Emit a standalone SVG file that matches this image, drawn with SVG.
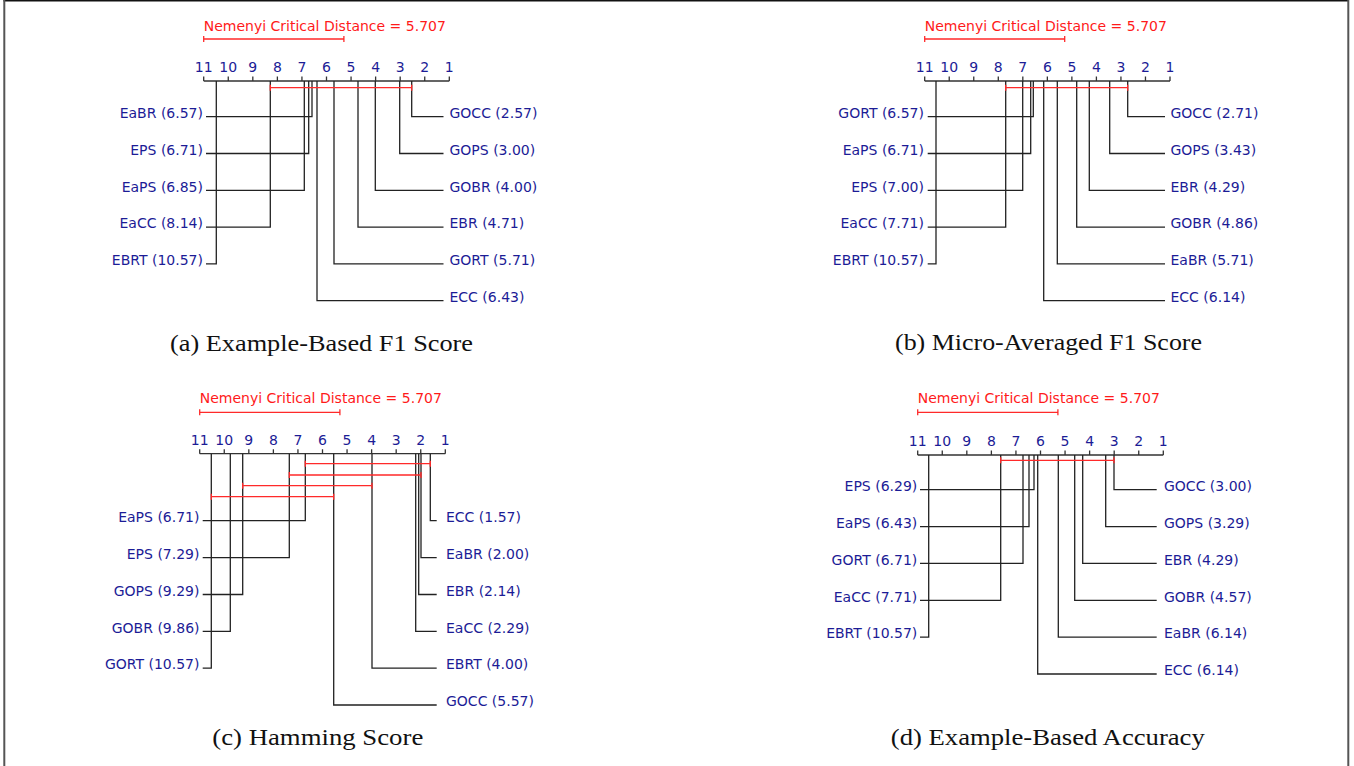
<svg xmlns="http://www.w3.org/2000/svg" width="1354" height="766" viewBox="0 0 1354 766">
<style>
.lbl{font-family:"DejaVu Sans",Verdana,sans-serif;font-size:14px;fill:#1c1c96}
.l{text-anchor:end}
.tk{font-family:"DejaVu Sans",Verdana,sans-serif;font-size:14px;fill:#1c1c96;text-anchor:middle}
.cdt{font-family:"DejaVu Sans",Verdana,sans-serif;font-size:14px;fill:#ff1a1a}
.cap{font-family:"Liberation Serif","Times New Roman",serif;font-size:24px;fill:#111;text-anchor:middle}
.ln{stroke:#222;stroke-width:1.3;fill:none}
.ax{stroke:#333;stroke-width:1.3;fill:none}
.red{stroke:#ff2a2a;stroke-width:1.3;fill:none}
</style>
<rect width="1354" height="766" fill="#fff"/>
<g id="frame">
<line x1="3.5" y1="0.8" x2="1348.5" y2="0.8" stroke="#111" stroke-width="1.5"/>
<line x1="4.3" y1="0" x2="4.3" y2="766" stroke="#555" stroke-width="2"/>
<line x1="1348.3" y1="0" x2="1348.3" y2="766" stroke="#555" stroke-width="2"/>
</g>

<!-- Panel (a) -->
<g id="panel-a">
<g id="a-cd">
<text class="cdt" x="203.7" y="30.7">Nemenyi Critical Distance = 5.707</text>
<path class="red" d="M203.7,39H343.9M203.7,36V42M343.9,36V42"/>
</g>
<g id="a-axis">
<path class="ax" d="M203.7,81H449.3M203.7,76.5V81M228.26,76.5V81M252.82,76.5V81M277.38,76.5V81M301.94,76.5V81M326.5,76.5V81M351.06,76.5V81M375.62,76.5V81M400.18,76.5V81M424.74,76.5V81M449.3,76.5V81"/>
<text class="tk" x="203.7" y="72">11</text><text class="tk" x="228.26" y="72">10</text><text class="tk" x="252.82" y="72">9</text><text class="tk" x="277.38" y="72">8</text><text class="tk" x="301.94" y="72">7</text><text class="tk" x="326.5" y="72">6</text><text class="tk" x="351.06" y="72">5</text><text class="tk" x="375.62" y="72">4</text><text class="tk" x="400.18" y="72">3</text><text class="tk" x="424.74" y="72">2</text><text class="tk" x="449.3" y="72">1</text>
</g>
<g id="a-connectors">
<path class="ln" d="M206,116.7H312V81"/>
<path class="ln" d="M206,153.5H308.7V81"/>
<path class="ln" d="M206,190.3H304.3V81"/>
<path class="ln" d="M206,227.1H270.3V81"/>
<path class="ln" d="M206,263.9H216.3V81"/>
<path class="ln" d="M443.5,116.7H411.7V81"/>
<path class="ln" d="M443.5,153.5H399.7V81"/>
<path class="ln" d="M443.5,190.3H375.3V81"/>
<path class="ln" d="M443.5,227.1H358V81"/>
<path class="ln" d="M443.5,263.9H334V81"/>
<path class="ln" d="M443.5,300.7H317V81"/>
<path class="red" d="M270.3,87.7H411.7M270.3,84.7V90.7M411.7,84.7V90.7"/>
</g>
<g id="a-EaBR"><text class="lbl l" x="203" y="118">EaBR (6.57)</text></g>
<g id="a-EPS"><text class="lbl l" x="203" y="154.8">EPS (6.71)</text></g>
<g id="a-EaPS"><text class="lbl l" x="203" y="191.6">EaPS (6.85)</text></g>
<g id="a-EaCC"><text class="lbl l" x="203" y="228.4">EaCC (8.14)</text></g>
<g id="a-EBRT"><text class="lbl l" x="203" y="265.2">EBRT (10.57)</text></g>
<g id="a-GOCC"><text class="lbl" x="449.5" y="118">GOCC (2.57)</text></g>
<g id="a-GOPS"><text class="lbl" x="449.5" y="154.8">GOPS (3.00)</text></g>
<g id="a-GOBR"><text class="lbl" x="449.5" y="191.6">GOBR (4.00)</text></g>
<g id="a-EBR"><text class="lbl" x="449.5" y="228.4">EBR (4.71)</text></g>
<g id="a-GORT"><text class="lbl" x="449.5" y="265.2">GORT (5.71)</text></g>
<g id="a-ECC"><text class="lbl" x="449.5" y="302">ECC (6.43)</text></g>
<text class="cap" x="321.5" y="351" textLength="303" lengthAdjust="spacingAndGlyphs">(a) Example-Based F1 Score</text>
</g>

<!-- Panel (b) -->
<g id="panel-b">
<g id="b-cd">
<text class="cdt" x="924.7" y="30.7">Nemenyi Critical Distance = 5.707</text>
<path class="red" d="M924.7,39H1064.7M924.7,36V42M1064.7,36V42"/>
</g>
<g id="b-axis">
<path class="ax" d="M924.7,81H1170M924.7,76.5V81M949.23,76.5V81M973.76,76.5V81M998.29,76.5V81M1022.82,76.5V81M1047.35,76.5V81M1071.88,76.5V81M1096.41,76.5V81M1120.94,76.5V81M1145.47,76.5V81M1170,76.5V81"/>
<text class="tk" x="924.7" y="72">11</text><text class="tk" x="949.23" y="72">10</text><text class="tk" x="973.76" y="72">9</text><text class="tk" x="998.29" y="72">8</text><text class="tk" x="1022.82" y="72">7</text><text class="tk" x="1047.35" y="72">6</text><text class="tk" x="1071.88" y="72">5</text><text class="tk" x="1096.41" y="72">4</text><text class="tk" x="1120.94" y="72">3</text><text class="tk" x="1145.47" y="72">2</text><text class="tk" x="1170" y="72">1</text>
</g>
<g id="b-connectors">
<path class="ln" d="M927.7,116.7H1033.3V81"/>
<path class="ln" d="M927.7,153.5H1030.7V81"/>
<path class="ln" d="M927.7,190.3H1022.7V81"/>
<path class="ln" d="M927.7,227.1H1005.7V81"/>
<path class="ln" d="M927.7,263.9H936V81"/>
<path class="ln" d="M1165,116.7H1127.7V81"/>
<path class="ln" d="M1165,153.5H1109.7V81"/>
<path class="ln" d="M1165,190.3H1089.3V81"/>
<path class="ln" d="M1165,227.1H1076.7V81"/>
<path class="ln" d="M1165,263.9H1057.3V81"/>
<path class="ln" d="M1165,300.7H1043.7V81"/>
<path class="red" d="M1005.7,87.7H1127.7M1005.7,84.7V90.7M1127.7,84.7V90.7"/>
</g>
<g id="b-GORT"><text class="lbl l" x="924" y="118">GORT (6.57)</text></g>
<g id="b-EaPS"><text class="lbl l" x="924" y="154.8">EaPS (6.71)</text></g>
<g id="b-EPS"><text class="lbl l" x="924" y="191.6">EPS (7.00)</text></g>
<g id="b-EaCC"><text class="lbl l" x="924" y="228.4">EaCC (7.71)</text></g>
<g id="b-EBRT"><text class="lbl l" x="924" y="265.2">EBRT (10.57)</text></g>
<g id="b-GOCC"><text class="lbl" x="1170.5" y="118">GOCC (2.71)</text></g>
<g id="b-GOPS"><text class="lbl" x="1170.5" y="154.8">GOPS (3.43)</text></g>
<g id="b-EBR"><text class="lbl" x="1170.5" y="191.6">EBR (4.29)</text></g>
<g id="b-GOBR"><text class="lbl" x="1170.5" y="228.4">GOBR (4.86)</text></g>
<g id="b-EaBR"><text class="lbl" x="1170.5" y="265.2">EaBR (5.71)</text></g>
<g id="b-ECC"><text class="lbl" x="1170.5" y="302">ECC (6.14)</text></g>
<text class="cap" x="1048.5" y="350" textLength="307" lengthAdjust="spacingAndGlyphs">(b) Micro-Averaged F1 Score</text>
</g>

<!-- Panel (c) -->
<g id="panel-c">
<g id="c-cd">
<text class="cdt" x="199.7" y="402.7">Nemenyi Critical Distance = 5.707</text>
<path class="red" d="M199.7,412.3H339.9M199.7,409.3V415.3M339.9,409.3V415.3"/>
</g>
<g id="c-axis">
<path class="ax" d="M199.7,453.7H445.3M199.7,449.2V453.7M224.26,449.2V453.7M248.82,449.2V453.7M273.38,449.2V453.7M297.94,449.2V453.7M322.5,449.2V453.7M347.06,449.2V453.7M371.62,449.2V453.7M396.18,449.2V453.7M420.74,449.2V453.7M445.3,449.2V453.7"/>
<text class="tk" x="199.7" y="444.5">11</text><text class="tk" x="224.26" y="444.5">10</text><text class="tk" x="248.82" y="444.5">9</text><text class="tk" x="273.38" y="444.5">8</text><text class="tk" x="297.94" y="444.5">7</text><text class="tk" x="322.5" y="444.5">6</text><text class="tk" x="347.06" y="444.5">5</text><text class="tk" x="371.62" y="444.5">4</text><text class="tk" x="396.18" y="444.5">3</text><text class="tk" x="420.74" y="444.5">2</text><text class="tk" x="445.3" y="444.5">1</text>
</g>
<g id="c-connectors">
<path class="ln" d="M202.7,520.7H305.3V453.7"/>
<path class="ln" d="M202.7,557.6H289.3V453.7"/>
<path class="ln" d="M202.7,594.5H242.7V453.7"/>
<path class="ln" d="M202.7,631.3H230.3V453.7"/>
<path class="ln" d="M202.7,668.1H211.3V453.7"/>
<path class="ln" d="M436.7,520.7H430.3V453.7"/>
<path class="ln" d="M436.7,557.6H421V453.7"/>
<path class="ln" d="M436.7,594.5H418.7V453.7"/>
<path class="ln" d="M436.7,631.3H415.7V453.7"/>
<path class="ln" d="M436.7,668.1H372V453.7"/>
<path class="ln" d="M436.7,705H333.7V453.7"/>
<path class="red" d="M305.3,463.7H430.3M305.3,460.7V466.7M430.3,460.7V466.7"/>
<path class="red" d="M289.3,475H421M289.3,472V478M421,472V478"/>
<path class="red" d="M242.7,485.7H372M242.7,482.7V488.7M372,482.7V488.7"/>
<path class="red" d="M211.3,496.7H333.7M211.3,493.7V499.7M333.7,493.7V499.7"/>
</g>
<g id="c-EaPS"><text class="lbl l" x="199.5" y="522">EaPS (6.71)</text></g>
<g id="c-EPS"><text class="lbl l" x="199.5" y="558.9">EPS (7.29)</text></g>
<g id="c-GOPS"><text class="lbl l" x="199.5" y="595.8">GOPS (9.29)</text></g>
<g id="c-GOBR"><text class="lbl l" x="199.5" y="632.6">GOBR (9.86)</text></g>
<g id="c-GORT"><text class="lbl l" x="199.5" y="669.4">GORT (10.57)</text></g>
<g id="c-ECC"><text class="lbl" x="446" y="522">ECC (1.57)</text></g>
<g id="c-EaBR"><text class="lbl" x="446" y="558.9">EaBR (2.00)</text></g>
<g id="c-EBR"><text class="lbl" x="446" y="595.8">EBR (2.14)</text></g>
<g id="c-EaCC"><text class="lbl" x="446" y="632.6">EaCC (2.29)</text></g>
<g id="c-EBRT"><text class="lbl" x="446" y="669.4">EBRT (4.00)</text></g>
<g id="c-GOCC"><text class="lbl" x="446" y="706.3">GOCC (5.57)</text></g>
<text class="cap" x="317.8" y="745" textLength="211" lengthAdjust="spacingAndGlyphs">(c) Hamming Score</text>
</g>

<!-- Panel (d) -->
<g id="panel-d">
<g id="d-cd">
<text class="cdt" x="917.7" y="403.3">Nemenyi Critical Distance = 5.707</text>
<path class="red" d="M917.7,412.3H1057.9M917.7,409.3V415.3M1057.9,409.3V415.3"/>
</g>
<g id="d-axis">
<path class="ax" d="M917.7,455H1163.3M917.7,450.5V455M942.26,450.5V455M966.82,450.5V455M991.38,450.5V455M1015.94,450.5V455M1040.5,450.5V455M1065.06,450.5V455M1089.62,450.5V455M1114.18,450.5V455M1138.74,450.5V455M1163.3,450.5V455"/>
<text class="tk" x="917.7" y="445.5">11</text><text class="tk" x="942.26" y="445.5">10</text><text class="tk" x="966.82" y="445.5">9</text><text class="tk" x="991.38" y="445.5">8</text><text class="tk" x="1015.94" y="445.5">7</text><text class="tk" x="1040.5" y="445.5">6</text><text class="tk" x="1065.06" y="445.5">5</text><text class="tk" x="1089.62" y="445.5">4</text><text class="tk" x="1114.18" y="445.5">3</text><text class="tk" x="1138.74" y="445.5">2</text><text class="tk" x="1163.3" y="445.5">1</text>
</g>
<g id="d-connectors">
<path class="ln" d="M920,489.7H1034V455"/>
<path class="ln" d="M920,526.6H1029V455"/>
<path class="ln" d="M920,563.4H1023V455"/>
<path class="ln" d="M920,600.3H1000.7V455"/>
<path class="ln" d="M920,637.1H928.7V455"/>
<path class="ln" d="M1156.7,489.7H1114V455"/>
<path class="ln" d="M1156.7,526.6H1105.7V455"/>
<path class="ln" d="M1156.7,563.4H1082.7V455"/>
<path class="ln" d="M1156.7,600.3H1074.7V455"/>
<path class="ln" d="M1156.7,637.1H1058.3V455"/>
<path class="ln" d="M1156.7,674H1037.7V455"/>
<path class="red" d="M1000.7,460.3H1114M1000.7,457.3V463.3M1114,457.3V463.3"/>
</g>
<g id="d-EPS"><text class="lbl l" x="917.3" y="491">EPS (6.29)</text></g>
<g id="d-EaPS"><text class="lbl l" x="917.3" y="527.9">EaPS (6.43)</text></g>
<g id="d-GORT"><text class="lbl l" x="917.3" y="564.7">GORT (6.71)</text></g>
<g id="d-EaCC"><text class="lbl l" x="917.3" y="601.6">EaCC (7.71)</text></g>
<g id="d-EBRT"><text class="lbl l" x="917.3" y="638.4">EBRT (10.57)</text></g>
<g id="d-GOCC"><text class="lbl" x="1164" y="491">GOCC (3.00)</text></g>
<g id="d-GOPS"><text class="lbl" x="1164" y="527.9">GOPS (3.29)</text></g>
<g id="d-EBR"><text class="lbl" x="1164" y="564.7">EBR (4.29)</text></g>
<g id="d-GOBR"><text class="lbl" x="1164" y="601.6">GOBR (4.57)</text></g>
<g id="d-EaBR"><text class="lbl" x="1164" y="638.4">EaBR (6.14)</text></g>
<g id="d-ECC"><text class="lbl" x="1164" y="675.3">ECC (6.14)</text></g>
<text class="cap" x="1047.8" y="745" textLength="314" lengthAdjust="spacingAndGlyphs">(d) Example-Based Accuracy</text>
</g>
</svg>
